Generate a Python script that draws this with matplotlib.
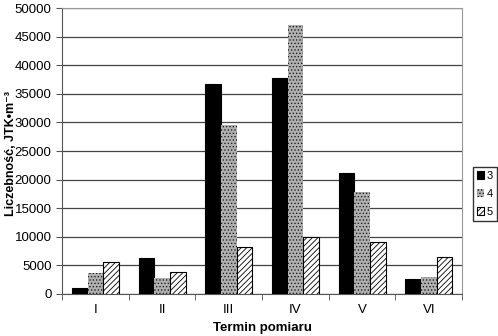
import numpy as np
import matplotlib.pyplot as plt

plt.rcParams['font.family'] = ['Liberation Sans', 'DejaVu Sans']
plt.rcParams['hatch.linewidth'] = 0.6

terms = ['I', 'II', 'III', 'IV', 'V', 'VI']
series_names = ['3', '4', '5']
s3 = [1000, 6300, 36800, 37800, 21100, 2600]
s4 = [3600, 2800, 29600, 47000, 17900, 2900]
s5 = [5600, 3800, 8200, 9900, 9100, 6400]

fig = plt.figure(figsize=(4.98, 3.36), dpi=100)
ax = fig.add_axes([0.1245, 0.125, 0.8035, 0.851])

x = np.arange(len(terms))
w = 0.235
ax.bar(x - w, s3, w, color='black', edgecolor='black', lw=0.8, label=series_names[0], zorder=3)
ax.bar(x, s4, w, color='#b0b0b0', edgecolor='#222222', hatch='.....', lw=0.0, label=series_names[1], zorder=3)
ax.bar(x + w, s5, w, color='white', edgecolor='black', hatch='//////', lw=0.8, label=series_names[2], zorder=3)

ax.set_xlim(-0.5, len(terms) - 0.5)
ax.set_ylim(0, 50000)
ax.set_yticks(np.arange(0, 50001, 5000))
ax.set_xticks(x)
ax.set_xticklabels(terms)
ax.set_xticks(np.arange(-0.5, len(terms)), minor=True)
ax.tick_params(axis='x', which='major', length=0, pad=7, labelsize=9.5)
ax.tick_params(axis='x', which='minor', length=4, color='#555555')
ax.tick_params(axis='y', length=4, labelsize=9.5, color='#555555')
ax.grid(axis='y', color='#444444', lw=0.9, zorder=0)

for s in ['top', 'right']:
    ax.spines[s].set_color('#999999')
ax.spines['left'].set_color('#555555')
ax.spines['bottom'].set_color('#555555')

ax.set_ylabel('Liczebność, JTK•m⁻³', fontweight='bold', fontsize=9)
ax.yaxis.set_label_coords(-0.112, 0.493)
ax.set_xlabel('Termin pomiaru', fontweight='bold', fontsize=9.5)
ax.xaxis.set_label_coords(0.5, -0.097)

fig.legend(loc='center', bbox_to_anchor=(0.974, 0.423), fontsize=8, frameon=True,
           fancybox=False, edgecolor='black', handlelength=0.6, handleheight=0.8,
           handletextpad=0.3, borderpad=0.35, labelspacing=0.7, borderaxespad=0)

fig.savefig('out.png', dpi=100)
